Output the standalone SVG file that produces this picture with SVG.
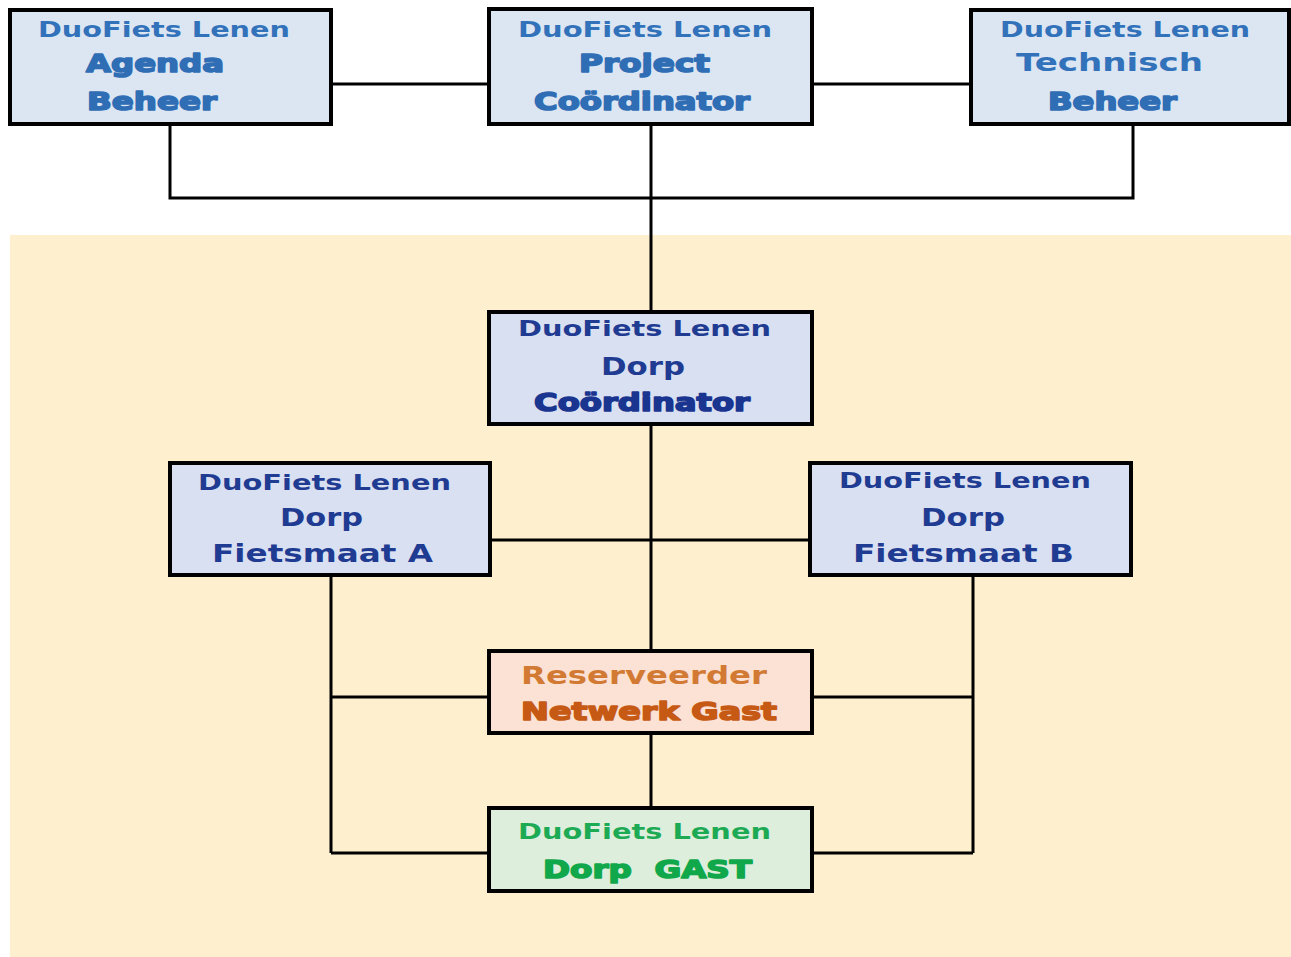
<svg xmlns="http://www.w3.org/2000/svg" width="1291" height="957" viewBox="0 0 1291 957">
<style>
.box{stroke:#000;stroke-width:4}
.top{fill:#DCE6F2}
.mid{fill:#D9E0F1}
.res{fill:#FBE2D5}
.gst{fill:#DDEEDC}
text{font-family:"DejaVu Sans","Liberation Sans",sans-serif;font-weight:bold;text-anchor:start}
.t1{font-size:22px}
.t2{font-size:25px}
.hv{stroke-width:1.6;stroke-linejoin:round}
.bl{fill:#3272BA}
.blh{fill:#2F6DB5;stroke:#2F6DB5}
.nv{fill:#1F3B92}
.nvh{fill:#1A3590;stroke:#1A3590}
.or{fill:#D27A33}
.orh{fill:#C65A14;stroke:#C65A14}
.gr{fill:#1DAA55}
.grh{fill:#10A84A;stroke:#10A84A}
.con{fill:none;stroke:#000;stroke-width:3}
</style>
<rect x="0" y="0" width="1291" height="957" fill="#FFFFFF"/>
<rect x="10" y="235" width="1281" height="722" fill="#FEF0CF"/>
<g id="connectors">
<line class="con" x1="331" y1="84" x2="489" y2="84"/>
<line class="con" x1="812" y1="84" x2="971" y2="84"/>
<polyline class="con" points="170,124 170,198 1133,198 1133,124"/>
<line class="con" x1="651" y1="124" x2="651" y2="312"/>
<line class="con" x1="651" y1="424" x2="651" y2="651"/>
<line class="con" x1="490" y1="540" x2="810" y2="540"/>
<line class="con" x1="331" y1="575" x2="331" y2="853"/>
<line class="con" x1="973" y1="575" x2="973" y2="853"/>
<line class="con" x1="331" y1="697" x2="489" y2="697"/>
<line class="con" x1="812" y1="697" x2="973" y2="697"/>
<line class="con" x1="651" y1="733" x2="651" y2="808"/>
<line class="con" x1="331" y1="853" x2="489" y2="853"/>
<line class="con" x1="812" y1="853" x2="973" y2="853"/>
</g>
<g id="agenda-beheer">
<rect class="box top" x="10" y="10" width="321" height="114"/>
<text class="t1 bl" x="38" y="37" textLength="252" lengthAdjust="spacingAndGlyphs">DuoFiets Lenen</text>
<text class="t2 blh hv" x="86" y="72" textLength="138" lengthAdjust="spacingAndGlyphs">Agenda</text>
<text class="t2 blh hv" x="87" y="110" textLength="130" lengthAdjust="spacingAndGlyphs">Beheer</text>
</g>
<g id="project-coordinator">
<rect class="box top" x="489" y="9" width="323" height="115"/>
<text class="t1 bl" x="518" y="37" textLength="254" lengthAdjust="spacingAndGlyphs">DuoFiets Lenen</text>
<text class="t2 blh hv" x="579" y="72" textLength="131" lengthAdjust="spacingAndGlyphs">Project</text>
<text class="t2 blh hv" x="534" y="110" textLength="216" lengthAdjust="spacingAndGlyphs">Coördinator</text>
</g>
<g id="technisch-beheer">
<rect class="box top" x="971" y="10" width="318" height="114"/>
<text class="t1 bl" x="1000" y="37" textLength="250" lengthAdjust="spacingAndGlyphs">DuoFiets Lenen</text>
<text class="t2 bl" x="1016" y="71" textLength="187" lengthAdjust="spacingAndGlyphs">Technisch</text>
<text class="t2 blh hv" x="1048" y="110" textLength="129" lengthAdjust="spacingAndGlyphs">Beheer</text>
</g>
<g id="dorp-coordinator">
<rect class="box mid" x="489" y="312" width="323" height="112"/>
<text class="t1 nv" x="518" y="336" textLength="253" lengthAdjust="spacingAndGlyphs">DuoFiets Lenen</text>
<text class="t2 nv" x="601" y="375" textLength="84" lengthAdjust="spacingAndGlyphs">Dorp</text>
<text class="t2 nvh hv" x="534" y="411" textLength="216" lengthAdjust="spacingAndGlyphs">Coördinator</text>
</g>
<g id="fietsmaat-a">
<rect class="box mid" x="170" y="463" width="320" height="112"/>
<text class="t1 nv" x="198" y="490" textLength="253" lengthAdjust="spacingAndGlyphs">DuoFiets Lenen</text>
<text class="t2 nv" x="280" y="526" textLength="83" lengthAdjust="spacingAndGlyphs">Dorp</text>
<text class="t2 nv" x="212" y="562" textLength="221" lengthAdjust="spacingAndGlyphs">Fietsmaat A</text>
</g>
<g id="fietsmaat-b">
<rect class="box mid" x="810" y="463" width="321" height="112"/>
<text class="t1 nv" x="839" y="488" textLength="252" lengthAdjust="spacingAndGlyphs">DuoFiets Lenen</text>
<text class="t2 nv" x="921" y="526" textLength="84" lengthAdjust="spacingAndGlyphs">Dorp</text>
<text class="t2 nv" x="853" y="562" textLength="221" lengthAdjust="spacingAndGlyphs">Fietsmaat B</text>
</g>
<g id="reserveerder">
<rect class="box res" x="489" y="651" width="323" height="82"/>
<text class="t2 or" x="521" y="684" textLength="246" lengthAdjust="spacingAndGlyphs">Reserveerder</text>
<text class="t2 orh hv" x="521" y="720" textLength="256" lengthAdjust="spacingAndGlyphs">Netwerk Gast</text>
</g>
<g id="dorp-gast">
<rect class="box gst" x="489" y="808" width="323" height="83"/>
<text class="t1 gr" x="518" y="839" textLength="253" lengthAdjust="spacingAndGlyphs">DuoFiets Lenen</text>
<text class="t2 grh hv" x="543" y="878" textLength="209" lengthAdjust="spacingAndGlyphs" xml:space="preserve">Dorp  GAST</text>
</g>
</svg>
